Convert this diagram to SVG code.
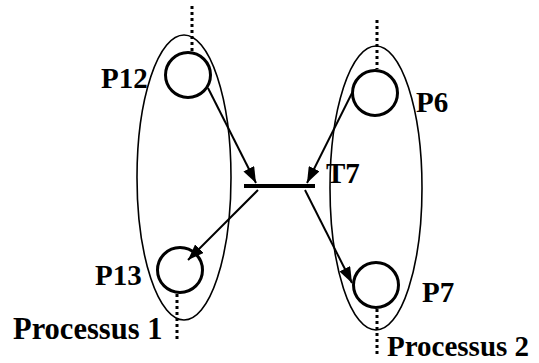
<svg xmlns="http://www.w3.org/2000/svg" width="539" height="363" viewBox="0 0 539 363">
<style>
.lbl{font-family:"Liberation Serif","Times New Roman",serif;font-weight:bold;font-size:29px;fill:#000}
.big{font-size:30.5px}
.place{fill:none;stroke:#000;stroke-width:3}
.proc{fill:none;stroke:#000;stroke-width:1.6}
.dot{stroke:#000;stroke-width:3;stroke-dasharray:3 3;fill:none}
.arc{stroke:#000;stroke-width:2;fill:none;marker-end:url(#ah)}
</style>
<defs>
<marker id="ah" markerUnits="userSpaceOnUse" markerWidth="17" markerHeight="12" refX="16" refY="6" orient="auto">
<path d="M0,0 L16,6 L0,12 Z" fill="#000"/>
</marker>
</defs>
<rect width="539" height="363" fill="#fff"/>
<g id="processus1">
<ellipse class="proc" cx="184" cy="177.5" rx="47" ry="142.5"/>
<text class="lbl big" x="13" y="339">Processus 1</text>
</g>
<g id="processus2">
<ellipse class="proc" cx="376" cy="188" rx="46" ry="142"/>
<text class="lbl" x="387" y="356">Processus 2</text>
</g>
<g id="P12">
<line class="dot" x1="192" y1="6" x2="192" y2="51"/>
<circle class="place" cx="188" cy="75" r="22.5"/>
<text class="lbl" x="101" y="88">P12</text>
</g>
<g id="P6">
<line class="dot" x1="377" y1="20" x2="377" y2="69"/>
<circle class="place" cx="375" cy="93" r="22.5"/>
<text class="lbl" x="416" y="112">P6</text>
</g>
<g id="P13">
<line class="dot" x1="177" y1="294" x2="177" y2="339"/>
<circle class="place" cx="180" cy="270" r="22.5"/>
<text class="lbl" x="95" y="285">P13</text>
</g>
<g id="P7">
<line class="dot" x1="377" y1="309" x2="377" y2="357"/>
<circle class="place" cx="376" cy="285" r="22.5"/>
<text class="lbl" x="422" y="302">P7</text>
</g>
<g id="T7">
<line x1="244" y1="186" x2="315" y2="186" stroke="#000" stroke-width="4"/>
<text class="lbl" x="326" y="183">T7</text>
</g>
<g id="connectors">
<line class="arc" x1="208" y1="88" x2="256" y2="183"/>
<line class="arc" x1="352" y1="93" x2="307" y2="183"/>
<line class="arc" x1="258" y1="190" x2="188" y2="260"/>
<line class="arc" x1="305" y1="190" x2="352" y2="283"/>
</g>
</svg>
